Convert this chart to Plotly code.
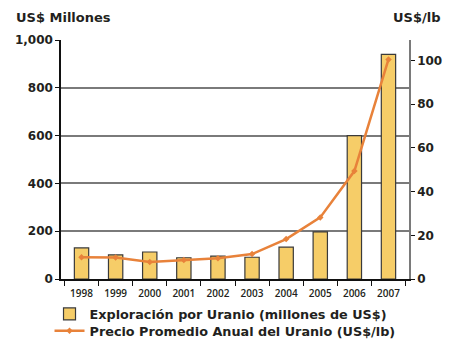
import plotly.graph_objects as go

# Years shown on the category axis
years = ["1998", "1999", "2000", "2001", "2002", "2003", "2004", "2005", "2006", "2007"]

# Uranium exploration spending (millions of US$)
exploracion = [130, 101, 113, 89, 96, 91, 133, 197, 600, 940]

# Average annual uranium price (US$/lb)
precio = [9.9, 9.8, 7.8, 8.7, 9.5, 11.4, 18.3, 28.2, 49.4, 100.5]

left_ticks = [0, 200, 400, 600, 800, 1000]
right_ticks = [0, 20, 40, 60, 80, 100]

FONT = "DejaVu Sans"
TXT = "#231f20"

legend_font = dict(family=FONT, size=12.8, color=TXT, weight="bold")

fig = go.Figure()

fig.add_trace(go.Bar(
    x=years, y=exploracion,
    name="Exploración por Uranio (millones de US$)",
    marker=dict(color="#f6cd68", line=dict(color="#3a3a3a", width=1.2)),
    width=0.42,
    yaxis="y",
    legend="legend",
))

fig.add_trace(go.Scatter(
    x=years, y=precio,
    name="Precio Promedio Anual del Uranio (US$/lb)",
    mode="lines+markers",
    line=dict(color="#e8823a", width=2.5),
    marker=dict(symbol="diamond", size=5, color="#e8823a"),
    yaxis="y2",
    legend="legend2",
))

fig.update_layout(
    width=457, height=341,
    margin=dict(l=61, r=48, t=40, b=62, autoexpand=False),
    paper_bgcolor="white", plot_bgcolor="white",
    font=dict(family=FONT, color=TXT, size=11),
    showlegend=True,
    legend=dict(
        x=-0.033, y=-0.084, xanchor="left", yanchor="top",
        font=legend_font, itemwidth=30,
        bgcolor="rgba(0,0,0,0)",
    ),
    legend2=dict(
        x=-0.033, y=-0.155, xanchor="left", yanchor="top",
        font=legend_font, itemwidth=30,
        bgcolor="rgba(0,0,0,0)",
    ),
    xaxis=dict(
        type="category",
        showline=True, linecolor="#111", linewidth=1.5,
        ticks="outside", ticklen=5, tickcolor="#111", tickwidth=1.2,
        tickson="boundaries",
        ticklabelstandoff=4,
        tickfont=dict(family="Open Sans", size=10, color=TXT, weight=600),
        showgrid=False,
    ),
    yaxis=dict(
        range=[0, 1000],
        tickvals=left_ticks,
        tickformat=",",
        showline=True, linecolor="#111", linewidth=1.5,
        ticks="outside", ticklen=4, tickcolor="#111", tickwidth=1.2,
        tickfont=dict(family=FONT, size=12, color=TXT, weight="bold"),
        showgrid=True, gridcolor="#7a7a7a", gridwidth=1.5,
        zeroline=False,
    ),
    yaxis2=dict(
        overlaying="y", side="right",
        range=[0, 109.4],
        tickvals=right_ticks,
        showline=True, linecolor="#7a7a7a", linewidth=1.5,
        ticks="outside", ticklen=4, tickcolor="#111", tickwidth=1.2,
        tickfont=dict(family=FONT, size=12, color=TXT, weight="bold"),
        showgrid=False, zeroline=False,
    ),
    annotations=[
        dict(text="US$ Millones", xref="paper", yref="paper",
             x=-0.135, y=1.094, xanchor="left", yanchor="middle", showarrow=False,
             font=dict(family=FONT, size=13, color=TXT, weight="bold")),
        dict(text="US$/lb", xref="paper", yref="paper",
             x=1.095, y=1.094, xanchor="right", yanchor="middle", showarrow=False,
             font=dict(family=FONT, size=13, color=TXT, weight="bold")),
    ],
)

fig.write_html("out.html")
